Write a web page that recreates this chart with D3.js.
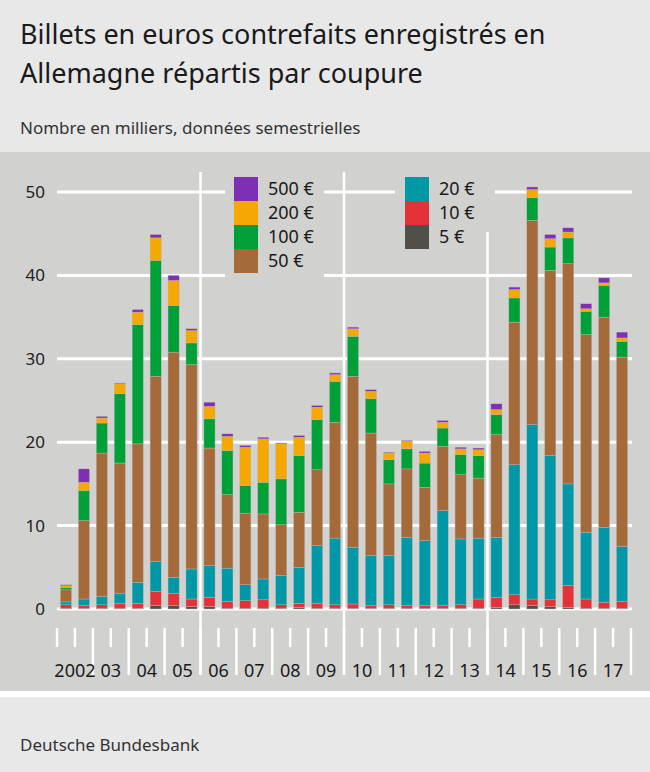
<!DOCTYPE html>
<html><head><meta charset="utf-8">
<script src="https://cdn.jsdelivr.net/npm/d3@7"></script>
<style>body{margin:0;background:#e8e8e8;}svg{display:block;font-family:"Noto Sans",sans-serif;}</style>
</head><body>
<script>
const years = ["2002","03","04","05","06","07","08","09","10","11","12","13","14","15","16","17"];
const semesters = d3.range(32);
const denominations = ["5 €","10 €","20 €","50 €","100 €","200 €","500 €"];
const colors = ["#524f4a","#e53138","#0097a7","#a56a3a","#00a038","#f5a800","#7f2fb3"];
const v5   = [.1,.1,.1,.1,.1,.4,.4,.3,.3,.1,.1,.1,.1,.2,.1,.1,.1,.1,.1,.1,.1,.1,.1,.1,.2,.5,.4,.3,.2,.1,.1,.1];
const v10  = [.4,.3,.4,.6,.6,1.7,1.5,.9,1.1,.8,.9,1.0,.4,.5,.6,.4,.5,.3,.4,.3,.3,.3,.4,1.1,1.2,1.2,.8,.8,2.6,1.1,.7,.8];
const v20  = [.35,.8,1.0,1.2,2.5,3.6,1.9,3.6,3.8,4.0,1.9,2.5,3.5,4.3,6.9,8.0,6.8,6.0,5.9,8.2,7.8,11.4,7.9,7.3,7.2,15.6,20.9,17.3,12.2,8.0,9.0,6.6];
const v50  = [1.45,9.4,17.2,15.6,16.6,22.2,27.0,24.5,14.1,8.8,8.6,7.8,6.1,6.6,9.1,13.9,20.5,14.7,8.6,8.2,6.4,7.7,7.7,7.2,12.3,17.1,24.5,22.2,26.4,23.7,25.2,22.7];
const v100 = [.3,3.6,3.6,8.3,14.3,13.9,5.6,2.6,3.5,5.3,3.3,3.8,5.5,6.8,6.0,4.9,4.8,4.1,2.9,2.4,2.9,2.2,2.4,2.7,2.4,2.9,2.7,2.8,3.1,2.8,3.8,1.9];
const v200 = [.2,1.0,.6,1.2,1.5,2.7,3.0,1.5,1.5,1.7,4.6,5.2,4.2,2.2,1.5,.8,.9,.9,.8,.9,1.2,.7,.7,.7,.6,1.0,1.0,1.0,.7,.3,.3,.4];
const v500 = [.1,1.6,.2,.1,.3,.4,.6,.2,.5,.3,.2,.2,.1,.2,.2,.2,.2,.2,.1,.1,.2,.2,.2,.2,.7,.3,.3,.5,.5,.6,.6,.7];
const yTicks = [0,10,20,30,40,50];
const series = [v5,v10,v20,v50,v100,v200,v500];

const W=650,H=772, panel="#d1d1d0";
const svg=d3.select("body").append("svg").attr("width",W).attr("height",H);
svg.append("rect").attr("width",W).attr("height",H).attr("fill","#e8e8e8");
svg.append("rect").attr("y",152).attr("width",W).attr("height",539).attr("fill",panel);
svg.append("rect").attr("y",691).attr("width",W).attr("height",6).attr("fill","#fff");
svg.append("text").attr("x",20).attr("y",44).attr("font-size",27).attr("fill","#1a1a1a").text("Billets en euros contrefaits enregistrés en");
svg.append("text").attr("x",20).attr("y",83).attr("font-size",27).attr("fill","#1a1a1a").text("Allemagne répartis par coupure");
svg.append("text").attr("x",20).attr("y",134).attr("font-size",17).attr("fill","#333").text("Nombre en milliers, données semestrielles");
svg.append("text").attr("x",20).attr("y",751).attr("font-size",17).attr("fill","#333").text("Deutsche Bundesbank");

const x=d3.scaleBand().domain(semesters).range([57,631]).paddingInner(0.38).paddingOuter(0.19);
const y=d3.scaleLinear().domain([0,50]).range([609,192]);
const step=x.step();
const xEdge=i=>57+i*step;

// horizontal grid
svg.append("g").selectAll("line").data(yTicks).join("line")
  .attr("x1",57).attr("x2",632).attr("y1",d=>y(d)).attr("y2",d=>y(d))
  .attr("stroke","#fff").attr("stroke-width",3);
svg.append("g").selectAll("text").data(yTicks).join("text")
  .attr("x",45).attr("y",d=>y(d)+6).attr("text-anchor","end").attr("font-size",17).attr("fill","#222").text(d=>d);
// legend masks
svg.append("rect").attr("x",225).attr("y",170).attr("width",99).attr("height",112).attr("fill",panel);
svg.append("rect").attr("x",395).attr("y",170).attr("width",100).attr("height",60).attr("fill",panel);
// vertical year separators through plot
[4,8,12].forEach((yr,k)=>{
  svg.append("line").attr("x1",xEdge(yr*2)).attr("x2",xEdge(yr*2))
    .attr("y1",k==2?232:172).attr("y2",675).attr("stroke","#fff").attr("stroke-width",2.5);
});
// ticks
svg.append("g").selectAll("line").data(d3.range(33)).join("line")
  .attr("x1",i=>xEdge(i)).attr("x2",i=>xEdge(i)).attr("y1",628)
  .attr("y2",i=>(i%2==0&&i>0)?675:647).attr("stroke","#fff").attr("stroke-width",2.5);
svg.append("g").selectAll("text").data(years).join("text")
  .attr("x",(d,i)=>xEdge(i*2)+step).attr("y",677).attr("text-anchor","middle")
  .attr("font-size",18).attr("fill","#1a1a1a").text(d=>d);

// bars
const rows=semesters.map(i=>{const o={i};denominations.forEach((d,k)=>o[d]=series[k][i]);return o;});
const stack=d3.stack().keys(denominations)(rows);
svg.append("g").selectAll("g").data(stack).join("g").attr("fill",(d,k)=>colors[k])
  .selectAll("rect").data(d=>d).join("rect")
  .attr("x",d=>x(d.data.i)).attr("width",x.bandwidth())
  .attr("y",d=>y(d[1])).attr("height",d=>y(d[0])-y(d[1]))
  .attr("stroke","#b9b9b9").attr("stroke-width",0.4);

// legend
const leg1=[[6,"500 €"],[5,"200 €"],[4,"100 €"],[3,"50 €"]];
const leg2=[[2,"20 €"],[1,"10 €"],[0,"5 €"]];
[[leg1,234],[leg2,405]].forEach(([items,lx])=>{
  items.forEach(([k,t],j)=>{
    svg.append("rect").attr("x",lx).attr("y",177+j*24).attr("width",24).attr("height",24).attr("fill",colors[k]);
    svg.append("text").attr("x",lx+34).attr("y",195+j*24).attr("font-size",18).attr("fill","#1a1a1a").text(t);
  });
});
</script>
</body></html>
